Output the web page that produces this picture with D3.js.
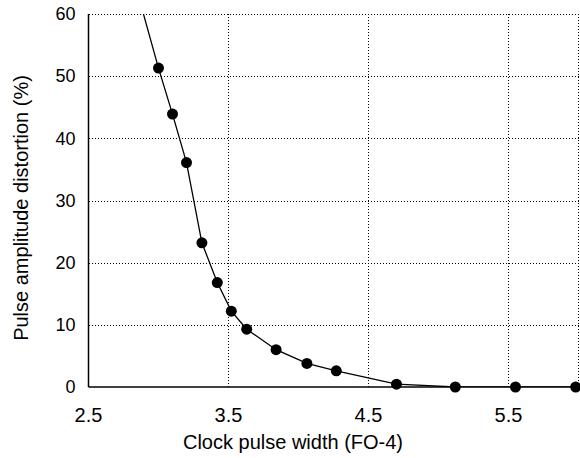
<!DOCTYPE html>
<html>
<head>
<meta charset="utf-8">
<script src="https://cdn.jsdelivr.net/npm/d3@7"></script>
<style>
  body { margin: 0; background: #fff; }
  text { font-family: "Liberation Sans", Arial, sans-serif; fill: #000; }
</style>
</head>
<body>
<svg id="chart" width="580" height="458"></svg>
<script>
// pulse width (FO-4) vs amplitude distortion (%)
const pulseWidth = [2.8, 3.0, 3.1, 3.2, 3.31, 3.42, 3.52, 3.63, 3.84, 4.06, 4.27, 4.7, 5.12, 5.55, 5.98];
const distortion = [67.5, 51.3, 43.9, 36.1, 23.2, 16.8, 12.2, 9.3, 6.0, 3.8, 2.6, 0.45, 0, 0, 0];
const xTicks = [2.5, 3.5, 4.5, 5.5];
const yTicks = [0, 10, 20, 30, 40, 50, 60];

const svg = d3.select("#chart");
const margin = { left: 88.5, right: 1.5, top: 14, bottom: 71 };
const width = 580, height = 458;

const x = d3.scaleLinear().domain([2.5, 6.0]).range([margin.left, width - margin.right]);
const y = d3.scaleLinear().domain([0, 60]).range([height - margin.bottom, margin.top]);

const data = pulseWidth.map((v, i) => ({ x: v, y: distortion[i] }));

svg.append("defs").append("clipPath").attr("id", "clip")
  .append("rect")
  .attr("x", margin.left).attr("y", margin.top)
  .attr("width", x(6.0) - margin.left).attr("height", y(0) - margin.top);

// dotted grid
const grid = svg.append("g").attr("stroke", "#000").attr("stroke-width", 1)
  .attr("stroke-dasharray", "1,2").attr("shape-rendering", "crispEdges");
grid.selectAll(".hg").data(yTicks.filter(d => d > 0)).join("line")
  .attr("x1", x(2.5)).attr("x2", x(6.0))
  .attr("y1", d => Math.round(y(d)) + 0.5).attr("y2", d => Math.round(y(d)) + 0.5);
grid.selectAll(".vg").data(xTicks.slice(1).concat([6.0])).join("line")
  .attr("y1", y(60)).attr("y2", y(0))
  .attr("x1", d => Math.round(x(d)) - 0.5).attr("x2", d => Math.round(x(d)) - 0.5);

// solid axes
svg.append("line").attr("x1", x(2.5)).attr("x2", x(2.5)).attr("y1", y(60)).attr("y2", y(0))
  .attr("stroke", "#000").attr("stroke-width", 1.5);
svg.append("line").attr("x1", x(2.5)).attr("x2", x(6.0)).attr("y1", y(0)).attr("y2", y(0))
  .attr("stroke", "#000").attr("stroke-width", 1.5);

// tick labels
svg.append("g").selectAll("text").data(xTicks).join("text")
  .attr("x", d => x(d)).attr("y", 421.5)
  .attr("text-anchor", "middle").style("font-size", "20px")
  .text(d => d3.format(".1f")(d));
svg.append("g").selectAll("text").data(yTicks).join("text")
  .attr("x", 75.5).attr("y", d => y(d)).attr("dy", "0.35em")
  .attr("text-anchor", "end").style("font-size", "18px")
  .text(d => d);

// titles
svg.append("text").attr("x", 293).attr("y", 449)
  .attr("text-anchor", "middle").style("font-size", "20px")
  .text("Clock pulse width (FO-4)");
svg.append("text")
  .attr("transform", "translate(28,208) rotate(-90)")
  .attr("text-anchor", "middle").style("font-size", "20px")
  .text("Pulse amplitude distortion (%)");

// series
const line = d3.line().x(d => x(d.x)).y(d => y(d.y));
svg.append("path").datum(data).attr("clip-path", "url(#clip)")
  .attr("d", line).attr("fill", "none").attr("stroke", "#000").attr("stroke-width", 1.3);
svg.append("g").selectAll("circle").data(data.filter(d => d.y <= 60)).join("circle")
  .attr("cx", d => x(d.x)).attr("cy", d => y(d.y)).attr("r", 5.5).attr("fill", "#000");
</script>
</body>
</html>
